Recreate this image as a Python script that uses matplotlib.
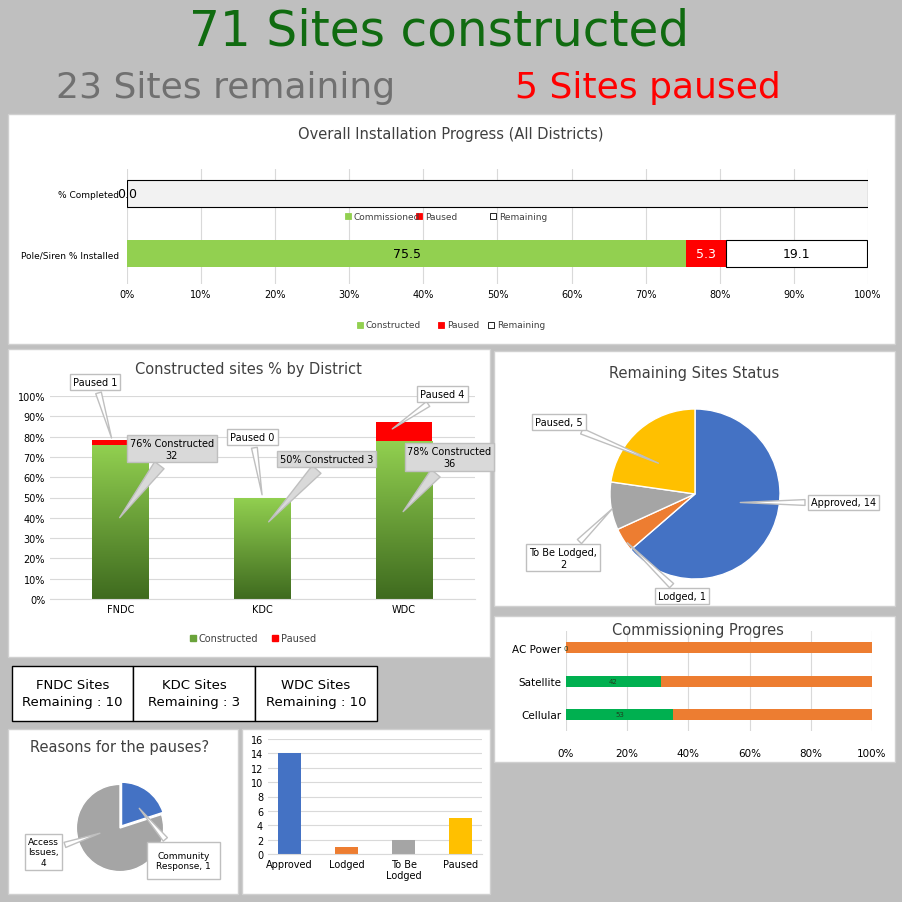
import numpy as np
import matplotlib.pyplot as plt
from matplotlib.patches import Rectangle
from matplotlib.colors import LinearSegmentedColormap

W = 903.0

# headline numbers
sites_constructed = 71
sites_remaining = 23
sites_paused = 5

# overall installation progress
overall_rows = ["Pole/Siren % Installed", "% Completed"]
overall_done = [75.5, 0.0]
overall_paused = [5.3, 0.0]
overall_remaining = [19.1, 100.0]

# constructed % by district
districts = ["FNDC", "KDC", "WDC"]
dist_constructed = [76, 50, 78]
dist_paused = [2.5, 0, 9]
dist_built_count = [32, 3, 36]
dist_paused_count = [1, 0, 4]
dist_remaining = [10, 3, 10]

# remaining sites status
status_labels = ["Approved", "Lodged", "To Be Lodged", "Paused"]
status_values = [14, 1, 2, 5]
status_colors = ["#4472C4", "#ED7D31", "#A5A5A5", "#FFC000"]

# commissioning
comm_rows = ["Cellular", "Satellite", "AC Power"]
comm_done = [53, 42, 0]
comm_todo = [98, 94, 100]

# reasons for pauses
reason_labels = ["Community\nResponse, 1", "Access\nIssues,\n4"]
reason_values = [1, 4]

fig = plt.figure(figsize=(9.03, 9.03), dpi=100)
fig.patch.set_facecolor("#bfbfbf")


def fx(x):
    return x / W


def fy(y):
    return 1 - y / W


def add_axes(x0, y0, x1, y1):
    return fig.add_axes([fx(x0), fy(y1), (x1 - x0) / W, (y1 - y0) / W])


def panel(x0, y0, x1, y1):
    fig.patches.append(Rectangle((fx(x0), fy(y1)), (x1 - x0) / W, (y1 - y0) / W,
                                 transform=fig.transFigure, facecolor="white",
                                 edgecolor="#d0d0d0", zorder=-1))


fig.text(fx(439), fy(32), f"{sites_constructed} Sites constructed", color="#106b10",
         fontsize=35, ha="center", va="center")
fig.text(fx(226), fy(88), f"{sites_remaining} Sites remaining", color="#707070",
         fontsize=26, ha="center", va="center")
fig.text(fx(648), fy(88), f"{sites_paused} Sites paused", color="#ff0000",
         fontsize=26, ha="center", va="center")

wbox = dict(boxstyle="square,pad=0.3", fc="white", ec="#bfbfbf")
gbox = dict(boxstyle="square,pad=0.3", fc="#d9d9d9", ec="#bfbfbf")
warrow = dict(arrowstyle="wedge,tail_width=0.6", fc="white", ec="#bfbfbf")
garrow = dict(arrowstyle="wedge,tail_width=1.2", fc="#d9d9d9", ec="#bfbfbf")

# ---- overall progress
panel(8, 115, 895, 345)
fig.text(fx(451), fy(134), "Overall Installation Progress (All Districts)", fontsize=10.5,
         color="#404040", ha="center", va="center")
ax = add_axes(127, 170, 868, 285)
y = np.arange(len(overall_rows))
ax.barh(y, overall_done, height=0.45, color="#92D050")
ax.barh(y, overall_paused, left=overall_done, height=0.45, color="#ff0000")
left2 = np.array(overall_done) + np.array(overall_paused)
ax.barh(y, overall_remaining, left=left2, height=0.45, color=["white", "#f2f2f2"],
        edgecolor="black", linewidth=0.8)
ax.text(overall_done[0] / 2, 0, f"{overall_done[0]}", ha="center", va="center", fontsize=9)
ax.text(overall_done[0] + overall_paused[0] / 2, 0, f"{overall_paused[0]}", ha="center",
        va="center", fontsize=9, color="white")
ax.text(left2[0] + overall_remaining[0] / 2, 0, f"{overall_remaining[0]}", ha="center",
        va="center", fontsize=9)
ax.text(-1.3, 1, f"{overall_done[1]}", ha="left", va="center", fontsize=9)
ax.set_xlim(0, 100)
ax.set_ylim(-0.5, 1.4)
ax.set_yticks(y, overall_rows, fontsize=6.5)
ax.tick_params(axis="y", pad=6)
ax.set_xticks(range(0, 101, 10), [f"{v}%" for v in range(0, 101, 10)], fontsize=7)
ax.xaxis.grid(True, color="#d9d9d9")
ax.set_axisbelow(True)
ax.tick_params(length=0)
for s in ax.spines.values():
    s.set_visible(False)
for lab, yy in (("Commissioned", 217), ("Constructed", 326)):
    items = [(lab, "#92D050"), ("Paused", "#ff0000"), ("Remaining", "white")]
    xs = [345, 416, 490] if lab == "Commissioned" else [357, 438, 488]
    for (t, c), xx in zip(items, xs):
        fig.patches.append(Rectangle((fx(xx), fy(yy + 3)), 6 / W, 6 / W, transform=fig.transFigure,
                                     facecolor=c, edgecolor="black" if c == "white" else c, lw=0.6))
        fig.text(fx(xx + 9), fy(yy), t, fontsize=6.5, va="center", color="#404040")

# ---- district chart
panel(8, 350, 490, 658)
fig.text(fx(248), fy(370), "Constructed sites % by District", fontsize=10.5, color="#404040",
         ha="center", va="center")
ax = add_axes(50, 397, 475, 600)
x = np.arange(len(districts))
grad = LinearSegmentedColormap.from_list("g", ["#3f6b1f", "#92D050"])
bars = ax.bar(x, dist_constructed, width=0.4, color="none")
for b in bars:
    bx, bw, bh = b.get_x(), b.get_width(), b.get_height()
    im = ax.imshow(np.linspace(0, 1, 100).reshape(-1, 1), cmap=grad, origin="lower",
                   extent=[bx, bx + bw, 0, bh], aspect="auto", zorder=2)
    im.set_clip_path(b)
ax.bar(x, dist_paused, bottom=dist_constructed, width=0.4, color="#ff0000", zorder=2)
ax.set_xlim(-0.5, 2.5)
ax.set_ylim(0, 100)
ax.set_yticks(range(0, 101, 10), [f"{v}%" for v in range(0, 101, 10)], fontsize=7)
ax.set_xticks(x, districts, fontsize=7)
ax.yaxis.grid(True, color="#d9d9d9")
ax.set_axisbelow(True)
ax.tick_params(length=0)
for s in ax.spines.values():
    s.set_visible(False)
ax.spines["bottom"].set_visible(True)
ax.spines["bottom"].set_color("#d9d9d9")
const_text = [(0.36, 74), (1.45, 69), (2.32, 70)]
const_tip = [(-0.02, 39), (1.03, 37), (1.98, 42)]
paused_text = [(-0.18, 107), (0.93, 80), (2.27, 101)]
paused_tip = [(-0.06, 78), (1.0, 50), (1.9, 83)]
for i in range(3):
    label = (f"{dist_constructed[i]}% Constructed {dist_built_count[i]}" if i == 1 else
             f"{dist_constructed[i]}% Constructed\n{dist_built_count[i]}")
    ax.annotate(label, xy=const_tip[i], xytext=const_text[i], fontsize=7, ha="center",
                va="center", bbox=gbox, annotation_clip=False, zorder=5, arrowprops=garrow)
    ax.annotate(f"Paused {dist_paused_count[i]}", xy=paused_tip[i], xytext=paused_text[i],
                fontsize=7, ha="center", va="center", bbox=wbox, annotation_clip=False,
                zorder=5, arrowprops=warrow)
for t, c, xx in (("Constructed", "#6aa33a", 190), ("Paused", "#ff0000", 272)):
    fig.patches.append(Rectangle((fx(xx), fy(642)), 6 / W, 6 / W, transform=fig.transFigure,
                                 facecolor=c, edgecolor=c))
    fig.text(fx(xx + 9), fy(639), t, fontsize=7, va="center", color="#404040")

# ---- remaining status pie
panel(494, 352, 895, 607)
fig.text(fx(694), fy(374), "Remaining Sites Status", fontsize=10.5, color="#404040",
         ha="center", va="center")
ax = add_axes(610, 410, 780, 580)
ax.pie(status_values, colors=status_colors, startangle=90, counterclock=False,
       wedgeprops=dict(edgecolor="white", linewidth=1))
ax.set_xlim(-1, 1)
ax.set_ylim(-1, 1)
lbl_pos = [(1.75, -0.1), (-0.15, -1.2), (-1.55, -0.75), (-1.6, 0.85)]
tip = [(0.5, -0.1), (-0.82, -0.55), (-0.95, -0.15), (-0.4, 0.35)]
for i in range(4):
    ax.annotate(f"{status_labels[i]}, {status_values[i]}" if i != 2 else "To Be Lodged,\n2",
                xy=tip[i], xytext=lbl_pos[i], fontsize=7, ha="center", va="center",
                bbox=wbox, annotation_clip=False, arrowprops=warrow)

# ---- commissioning
panel(494, 617, 895, 763)
fig.text(fx(698), fy(630), "Commissioning Progres", fontsize=10.5, color="#404040",
         ha="center", va="center")
ax = add_axes(566, 632, 872, 732)
tot = np.array(comm_done) + np.array(comm_todo)
done_p = np.array(comm_done) / tot * 100
todo_p = np.array(comm_todo) / tot * 100
yy = np.arange(len(comm_rows))
ax.barh(yy, done_p, height=0.33, color="#00B050")
ax.barh(yy, todo_p, left=done_p, height=0.33, color="#ED7D31")
for i in range(3):
    ax.text(done_p[i] / 2, i, str(comm_done[i]), fontsize=5, ha="center", va="center",
            color="#204020")
ax.set_xlim(0, 100)
ax.set_ylim(-0.5, 2.5)
ax.set_yticks(yy, comm_rows, fontsize=7.5)
ax.set_xticks(range(0, 101, 20), [f"{v}%" for v in range(0, 101, 20)], fontsize=7.5)
ax.xaxis.grid(True, color="#d9d9d9")
ax.set_axisbelow(True)
ax.tick_params(length=0)
ax.tick_params(axis="x", pad=12)
for s in ax.spines.values():
    s.set_visible(False)

# ---- remaining table
edges = [12, 133, 255, 377]
for i in range(3):
    fig.patches.append(Rectangle((fx(edges[i]), fy(722)), (edges[i + 1] - edges[i]) / W, 55 / W,
                                 transform=fig.transFigure, facecolor="white",
                                 edgecolor="black", lw=1))
    fig.text(fx((edges[i] + edges[i + 1]) / 2), fy(694),
             f"{districts[i]} Sites\nRemaining : {dist_remaining[i]}", fontsize=9.5,
             ha="center", va="center", linespacing=1.4)

# ---- reasons pie
panel(8, 730, 238, 895)
fig.text(fx(120), fy(748), "Reasons for the pauses?", fontsize=10.5, color="#404040",
         ha="center", va="center")
ax = add_axes(72, 781, 168, 877)
ax.pie(reason_values, colors=["#4472C4", "#A5A5A5"], startangle=90, counterclock=False,
       explode=[0.06, 0], wedgeprops=dict(edgecolor="white", linewidth=1))
ax.set_xlim(-1.1, 1.1)
ax.set_ylim(-1.1, 1.1)
ax.annotate(reason_labels[0], xy=(0.4, 0.5), xytext=(1.45, -0.75), fontsize=6.5, ha="center",
            va="center", bbox=dict(boxstyle="square,pad=1.0", fc="white", ec="#bfbfbf"),
            annotation_clip=False, arrowprops=warrow)
ax.annotate(reason_labels[1], xy=(-0.4, -0.1), xytext=(-1.75, -0.55), fontsize=6.5,
            ha="center", va="center", bbox=wbox, annotation_clip=False, arrowprops=warrow)

# ---- status bar chart
panel(242, 730, 490, 895)
ax = add_axes(268, 740, 482, 855)
xb = np.arange(len(status_labels))
ax.bar(xb, status_values, width=0.4, color=status_colors)
ax.set_ylim(0, 16)
ax.set_yticks(range(0, 17, 2))
ax.tick_params(labelsize=7, length=0)
ax.set_xticks(xb, ["Approved", "Lodged", "To Be\nLodged", "Paused"])
ax.yaxis.grid(True, color="#d9d9d9")
ax.set_axisbelow(True)
for s in ax.spines.values():
    s.set_visible(False)
ax.spines["bottom"].set_visible(True)
ax.spines["bottom"].set_color("#d9d9d9")

fig.savefig("out.png", dpi=100, facecolor=fig.get_facecolor())
